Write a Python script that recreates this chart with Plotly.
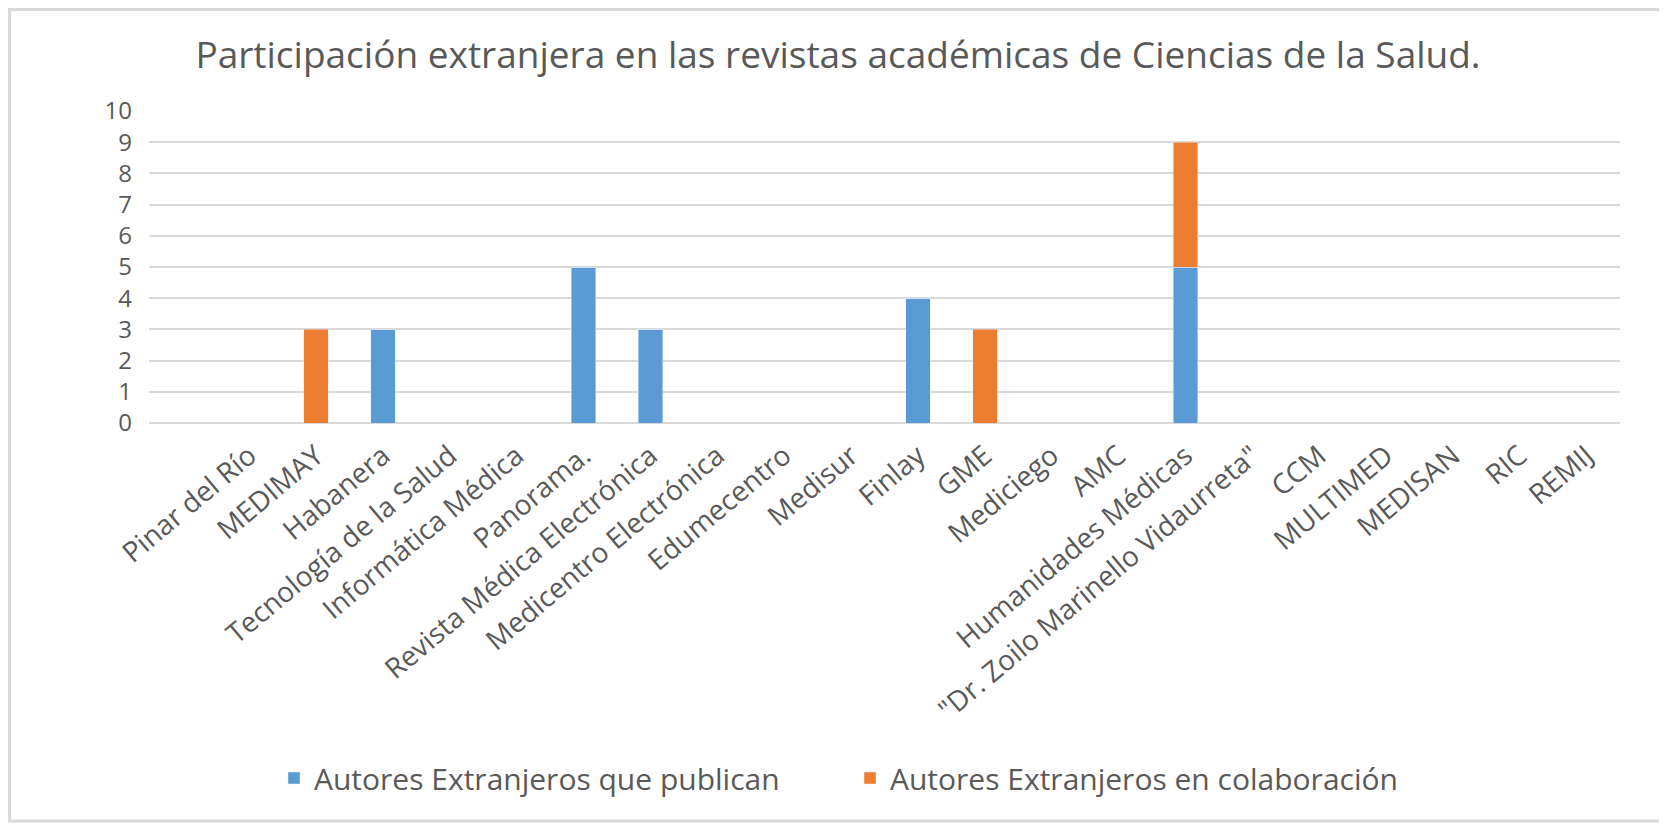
import plotly.graph_objects as go

categories = ["", "Pinar del Río", "MEDIMAY", "Habanera", "Tecnología de la Salud",
              "Informática Médica", "Panorama.", "Revista Médica Electrónica",
              "Medicentro Electrónica", "Edumecentro", "Medisur", "Finlay", "GME",
              "Mediciego", "AMC", "Humanidades Médicas", "\"Dr. Zoilo Marinello Vidaurreta\"",
              "CCM", "MULTIMED", "MEDISAN", "RIC", "REMIJ"]
publican = [0, 0, 0, 3, 0, 0, 5, 3, 0, 0, 0, 4, 0, 0, 0, 5, 0, 0, 0, 0, 0, 0]
colaboracion = [0, 0, 3, 0, 0, 0, 0, 0, 0, 0, 0, 0, 3, 0, 0, 4, 0, 0, 0, 0, 0, 0]
series_names = ["Autores Extranjeros que publican", "Autores Extranjeros en colaboración"]
y_ticks = list(range(0, 11))

# page body has an 8px margin; work in figure coordinates
W, H = 1659, 816
L, R, T, B = 141, 47, 103, 401
pw, ph = W - L - R, H - T - B


def px_x(x):
    return (x - L) / pw


def px_y(y):
    return (H - B - y) / ph


FONT = "Open Sans"
GREY = "#595959"

fig = go.Figure()
fig.add_trace(go.Bar(x=categories, y=publican, name=series_names[0], marker_color="#5B9BD5"))
fig.add_trace(go.Bar(x=categories, y=colaboracion, name=series_names[1], marker_color="#ED7D31"))

fig.update_layout(
    width=W, height=H,
    barmode="stack", bargap=0.635,
    plot_bgcolor="white", paper_bgcolor="white",
    margin=dict(l=L, r=R, t=T, b=B),
    font=dict(family=FONT, color=GREY),
    title=dict(text="Participación extranjera en las revistas académicas de Ciencias de la Salud.",
               x=830 / W, xanchor="center", y=1 - 47 / H, yanchor="middle",
               font=dict(size=37, color=GREY, family=FONT)),
    showlegend=True,
    legend=dict(orientation="h", x=px_x(266), xanchor="left",
                y=px_y(770), yanchor="middle",
                font=dict(size=30, color=GREY, family=FONT),
                entrywidth=531, entrywidthmode="pixels", traceorder="normal"),
    xaxis=dict(showgrid=False, tickangle=-40, tickfont=dict(size=28, color=GREY),
               showline=False, ticks="", ticklabelstandoff=10, fixedrange=True),
    yaxis=dict(range=[0, 10], tickvals=y_ticks, showgrid=True, gridcolor="#D9D9D9",
               gridwidth=2, zeroline=True, zerolinecolor="#D9D9D9", zerolinewidth=2,
               tickfont=dict(size=24, color=GREY), ticks="", ticklabelstandoff=16,
               showline=False),
    shapes=[dict(type="rect", xref="paper", yref="paper",
                 x0=px_x(1.5), x1=px_x(1653),
                 y0=px_y(813), y1=px_y(1.5),
                 line=dict(color="#D9D9D9", width=3), layer="below")],
)

fig.write_html("out.html")
